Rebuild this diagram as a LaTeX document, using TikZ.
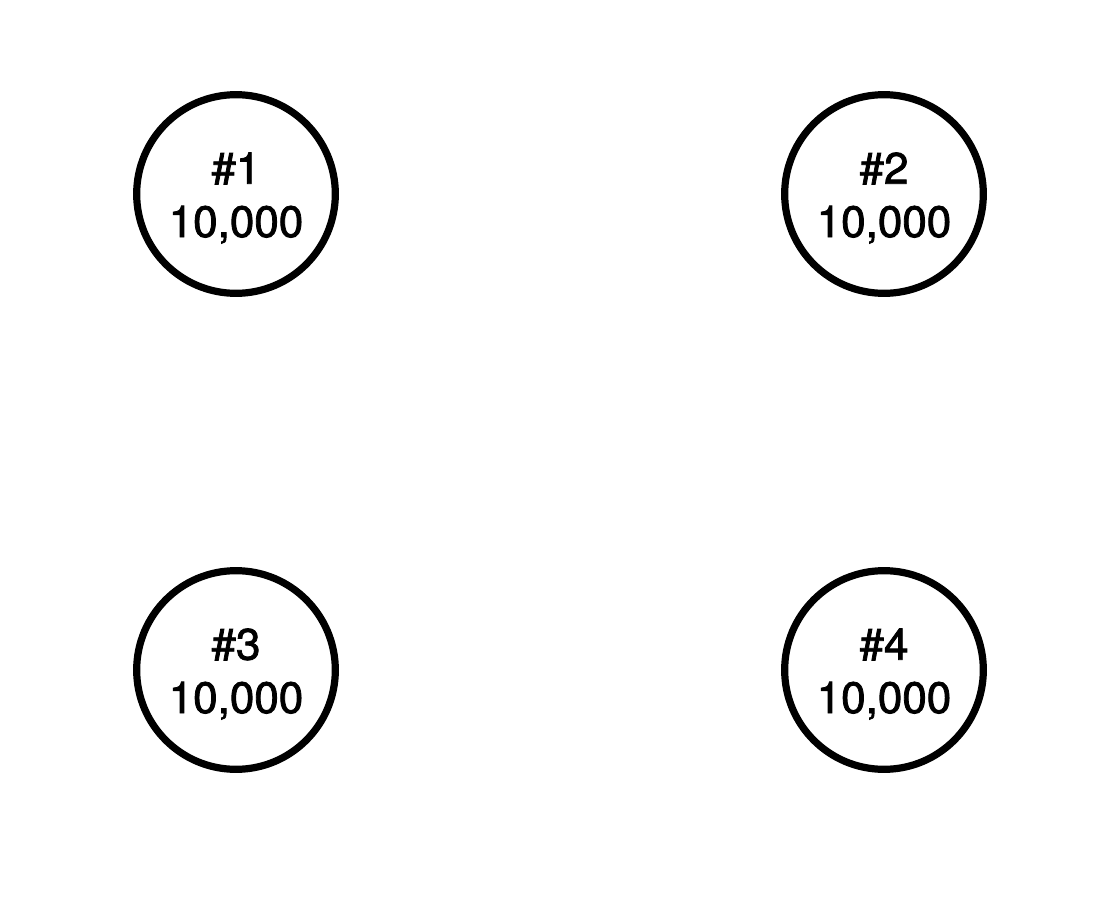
\documentclass[tikz,border=0pt]{standalone}
\usepackage{fontspec}
\setmainfont{TeX Gyre Heros}
\newfontfamily\medfont{TeX Gyre Heros}[FakeBold=1.8]
\begin{document}
\begin{tikzpicture}[x=0.75pt,y=-0.75pt,
  acct/.style={circle,draw=black,line width=5.4pt,minimum size=149pt,inner sep=0pt},
  acctlabel/.style={align=center,inner sep=0pt,font=\medfont\fontsize{33}{40}\selectfont}]
\useasboundingbox (0,0) rectangle (1100,910);
\fill[white] (0,0) rectangle (1100,910);
\node[acct] (n1) at (236,194) {};
\node[acct] (n2) at (884,194) {};
\node[acct] (n3) at (236,670) {};
\node[acct] (n4) at (884,670) {};
\node[acctlabel] (t1) at ([yshift=-3pt]n1.center) {\#1\\10,000};
\node[acctlabel] (t2) at ([yshift=-3pt]n2.center) {\#2\\10,000};
\node[acctlabel] (t3) at ([yshift=-3pt]n3.center) {\#3\\10,000};
\node[acctlabel] (t4) at ([yshift=-3pt]n4.center) {\#4\\10,000};
\end{tikzpicture}
\end{document}
